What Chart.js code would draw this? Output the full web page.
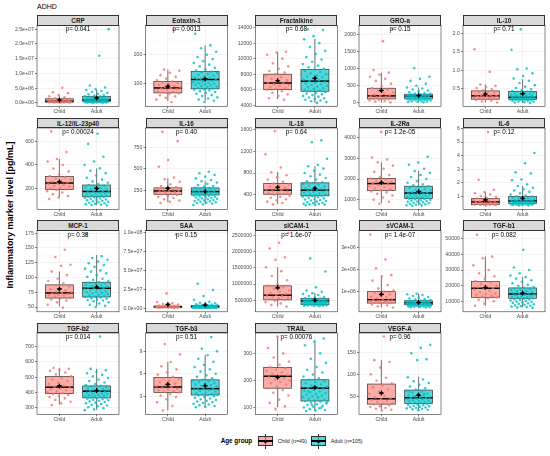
<!DOCTYPE html>
<html><head><meta charset="utf-8">
<script src="https://cdn.jsdelivr.net/npm/chart.js@4.4.1/dist/chart.umd.min.js"></script>
<style>
html,body{margin:0;padding:0;background:#fff;}
body{width:550px;height:456px;position:relative;overflow:hidden;font-family:"Liberation Sans",Arial,Helvetica,sans-serif;}
.strip{position:absolute;background:#D9D9D9;border:0.6px solid #333;box-sizing:border-box;font-weight:bold;font-size:6.3px;text-align:center;color:#1A1A1A;z-index:2;white-space:nowrap;}
.txt{position:absolute;white-space:nowrap;color:#000;}
.k{position:absolute;box-sizing:border-box;}
</style></head><body>
<div class="txt" style="left:37px;top:2.5px;font-size:7px;">ADHD</div>
<div class="txt" style="left:10px;top:215px;font-size:9px;font-weight:bold;transform:translate(-50%,-50%) rotate(-90deg);">Inflammatory marker level [pg/mL]</div>
<div id="legend"></div>
<script>
const markers = ['CRP','Eotaxin-1','Fractalkine','GRO-a','IL-10','IL-12/IL-23p40','IL-16','IL-18','IL-2Ra','IL-6','MCP-1','SAA','sICAM-1','sVCAM-1','TGF-b1','TGF-b2','TGF-b3','TRAIL','VEGF-A'];
const pLabels = ['p= 0.041','p= 0.0013','p= 0.68','p= 0.15','p= 0.71','p= 0.00024','p= 0.40','p= 0.64','p= 1.2e-05','p= 0.12','p= 0.38','p= 0.15','p= 1.6e-07','p= 1.4e-07','p= 0.082','p= 0.014','p= 0.51','p= 0.00076','p= 0.96'];
const groups = ['Child','Adult'];
const legendTitle = 'Age group';
const legendLabels = ['Child (n=49)','Adult (n=105)'];

const yLimits = [[-1.25e6,2.63e7],[22,301],[3820,14300],[-107,2257],[0.02,2.22],[22,715],[27,980],[135,1625],[530,4480],[0.07,6.03],[42,179.5],[-4.9e6,1.03e8],[140000,2660000],[85000,3780000],[3300,55300],[258,788],[0.6,11.45],[76,375],[8.5,194]];
const yTicks = [[0,5e6,1e7,1.5e7,2e7,2.5e7],[100,200],[4000,6000,8000,10000,12000,14000],[0,500,1000,1500,2000],[0.5,1,1.5,2],[200,400,600],[250,500,750],[400,800,1200,1600],[1000,2000,3000,4000],[1,2,3,4,5,6],[50,75,100,125,150,175],[0,2.5e7,5e7,7.5e7,1e8],[500000,1000000,1500000,2000000,2500000],[1e6,2e6,3e6],[10000,20000,30000,40000,50000],[300,400,500,600,700],[3,6,9],[100,200,300],[50,100,150]];
const yTickLabels = [['0.0e+00','5.0e+06','1.0e+07','1.5e+07','2.0e+07','2.5e+07'],['100','200'],['4000','6000','8000','10000','12000','14000'],['0','500','1000','1500','2000'],['0.5','1.0','1.5','2.0'],['200','400','600'],['250','500','750'],['400','800','1200','1600'],['1000','2000','3000','4000'],['1','2','3','4','5','6'],['50','75','100','125','150','175'],['0.0e+00','2.5e+07','5.0e+07','7.5e+07','1.0e+08'],['500000','1000000','1500000','2000000','2500000'],['1e+06','2e+06','3e+06'],['10000','20000','30000','40000','50000'],['300','400','500','600','700'],['3','6','9'],['100','200','300'],['50','100','150']];

// [lower whisker, Q1, median, Q3, upper whisker, mean]
const childStats = [[0.05e6,0.25e6,0.6e6,1.4e6,2.7e6,1.0e6],[41,69,86,108,149,92],[4800,6000,6860,8000,10900,7150],[10,117,204,427,880,360],[0.13,0.22,0.31,0.445,0.62,0.36],[123,191,246,303,451,257],[109,203,242,278,390,274],[229,412,486,608,815,540],[840,1440,1780,2030,2810,1830],[0.35,0.41,0.61,0.85,1.34,0.76],[51,65.3,73.9,87.5,110,80.7],[0.2e6,0.9e6,1.8e6,2.66e6,5.4e6,4.9e6],[303000,510000,655000,945000,1520000,883000],[282000,481000,634000,1000000,1700000,878000],[7220,12570,18350,22620,38660,18780],[322,393,435,504,561,443],[1.13,3.53,4.24,5.5,7.58,4.6],[102,172,216,248,362,212],[18.7,31.7,43.9,77.5,132.5,56.9]];
const adultStats = [[0.05e6,0.45e6,1.0e6,2.16e6,4.4e6,1.7e6],[42,83,115,142,232,117],[4300,5800,7100,8600,12550,7480],[20,117,194,252,450,214],[0.12,0.21,0.27,0.43,0.76,0.37],[57,129,174,229,371,200],[85,195,234,278,361,236],[229,382,486,620,925,522],[720,1050,1320,1650,2390,1390],[0.35,0.49,0.68,1.0,1.78,0.88],[51,67,81.8,92,138,84],[0.2e6,0.9e6,2.2e6,3.1e6,6.4e6,4.0e6],[320000,365000,480000,552000,718000,500000],[282000,405000,496000,588000,908000,505000],[6150,11930,14710,18570,25500,15350],[287,365,409,443,554,413],[1.58,3.18,4.02,5.2,8.5,4.42],[88,125,172,203,344,175],[18.7,33.2,46.2,63.7,93.9,52.3]];

const childPoints = [
[5.1e6,3.6e6,3.3e6,2.7e6,2.2e6,1.9e6,1.6e6,1.4e6,1.3e6,1.1e6,1.0e6,0.9e6,0.85e6,0.8e6,0.7e6,0.65e6,0.6e6,0.55e6,0.5e6,0.45e6,0.4e6,0.35e6,0.3e6,0.28e6,0.25e6,0.2e6,0.15e6,0.12e6,0.08e6,0.05e6],
[286,149,145,138,130,124,118,113,108,105,102,99,96,93,90,88,86,84,82,79,76,73,70,68,65,61,57,52,46,38],
[10900,10800,10500,10000,9400,9000,8700,8400,8200,8000,7800,7600,7400,7200,7000,6900,6800,6700,6600,6500,6350,6200,6100,6000,5800,5600,5400,5200,4900,4700],
[2146,1796,960,880,820,760,700,640,560,480,430,390,340,300,270,240,220,205,190,175,160,145,130,120,110,95,80,60,40,15],
[1.57,0.96,0.62,0.58,0.55,0.52,0.49,0.46,0.44,0.42,0.40,0.38,0.36,0.34,0.33,0.32,0.31,0.30,0.29,0.28,0.27,0.26,0.25,0.24,0.23,0.22,0.20,0.18,0.16,0.13],
[686,510,451,430,400,370,345,320,305,295,285,275,265,258,250,245,238,230,222,215,208,200,193,186,176,165,150,135,123,110],
[935,826,605,526,400,380,350,320,300,285,275,265,258,250,245,240,235,230,225,218,210,203,196,185,172,160,145,130,115,100],
[1565,1145,900,815,760,720,680,640,610,590,570,550,530,510,495,485,475,460,445,430,415,400,385,365,345,320,300,275,250,225],
[4290,3050,2950,2810,2650,2500,2350,2200,2100,2030,1980,1920,1870,1820,1780,1740,1700,1650,1600,1550,1500,1450,1400,1350,1280,1200,1100,1000,900,800],
[5.73,2.24,1.5,1.34,1.25,1.15,1.05,0.98,0.92,0.86,0.82,0.78,0.74,0.70,0.66,0.63,0.61,0.59,0.56,0.53,0.5,0.48,0.46,0.44,0.42,0.41,0.4,0.38,0.37,0.35],
[147,134.7,121.6,120,110,104,98,94,90,87,85,82,80,78,76,75,74,73,72,71,70,69,68,66,65,63,61,58,54,49],
[9.78e7,1.95e7,8e6,6.5e6,5.4e6,4.6e6,4.0e6,3.5e6,3.1e6,2.8e6,2.6e6,2.4e6,2.2e6,2.0e6,1.9e6,1.8e6,1.7e6,1.6e6,1.5e6,1.4e6,1.3e6,1.2e6,1.1e6,1.0e6,0.9e6,0.8e6,0.7e6,0.5e6,0.35e6,0.2e6],
[2580000,2280000,2100000,1830000,1750000,1520000,1400000,1250000,1120000,1000000,945000,900000,850000,800000,760000,720000,690000,660000,640000,620000,600000,580000,560000,530000,510000,480000,440000,400000,350000,300000],
[3600000,2460000,2060000,1750000,1700000,1500000,1300000,1150000,1050000,1000000,950000,880000,820000,770000,730000,700000,670000,640000,620000,600000,580000,560000,540000,520000,490000,460000,420000,380000,330000,280000],
[52570,38600,37500,33000,30000,28000,26000,24500,23000,22000,21000,20000,19500,19000,18500,18000,17500,17000,16000,15000,14500,14000,13500,13000,12500,12000,11000,10000,8500,7200],
[561,555,548,540,530,518,505,495,485,475,465,455,445,438,432,426,420,414,408,402,396,390,384,378,370,362,352,340,330,318],
[9.98,8.6,7.58,7.0,6.6,6.2,5.9,5.6,5.45,5.3,5.1,4.9,4.7,4.5,4.35,4.25,4.15,4.0,3.9,3.8,3.7,3.6,3.5,3.3,3.1,2.9,2.6,2.2,1.7,1.1],
[362,320,300,285,270,258,250,245,240,235,230,225,220,216,212,208,204,200,195,190,185,178,172,165,155,145,130,118,105,95],
[186,132,128,115,100,92,85,79,75,70,65,60,55,50,47,45,43,41,39,37,35,33,31,29,27,25,23,21,19,17]
];

const adultPoints = [
[2.5e7,1.6e7,5.9e6,5.2e6,4.6e6,4.4e6,4.0e6,3.7e6,3.4e6,3.1e6,2.9e6,2.7e6,2.5e6,2.3e6,2.2e6,2.1e6,2.0e6,1.9e6,1.8e6,1.7e6,1.6e6,1.5e6,1.4e6,1.35e6,1.3e6,1.2e6,1.15e6,1.1e6,1.05e6,1.0e6,0.95e6,0.9e6,0.85e6,0.8e6,0.75e6,0.7e6,0.65e6,0.6e6,0.55e6,0.5e6,0.47e6,0.45e6,0.42e6,0.4e6,0.35e6,0.3e6,0.28e6,0.25e6,0.2e6,0.18e6,0.15e6,0.12e6,0.1e6,0.08e6,0.05e6],
[272,232,222,210,200,192,185,178,172,166,160,155,150,146,142,140,137,134,131,128,125,122,120,118,116,114,112,110,108,106,104,102,100,98,96,94,92,90,88,86,84,82,80,78,75,72,69,66,62,58,54,50,46,42,38],
[13800,13700,12900,12500,12000,11500,11000,10600,10200,9900,9600,9300,9100,8900,8700,8600,8400,8300,8100,8000,7850,7700,7600,7450,7300,7200,7100,7000,6900,6800,6700,6600,6500,6400,6300,6200,6100,6000,5900,5800,5700,5600,5500,5400,5300,5200,5100,5000,4900,4800,4700,4600,4500,4400,4300],
[1010,760,700,640,560,500,450,420,390,360,330,310,290,275,262,252,245,238,230,224,218,212,206,200,195,190,185,180,175,170,165,160,155,150,145,140,135,130,125,120,115,110,105,100,95,90,85,80,70,60,50,40,35,25,20],
[2.11,1.56,1.05,1.03,0.92,0.85,0.78,0.72,0.66,0.6,0.56,0.52,0.49,0.46,0.44,0.43,0.42,0.40,0.38,0.37,0.36,0.35,0.34,0.33,0.32,0.31,0.30,0.29,0.28,0.28,0.27,0.27,0.26,0.26,0.25,0.25,0.24,0.24,0.23,0.23,0.22,0.22,0.21,0.21,0.20,0.20,0.19,0.19,0.18,0.17,0.16,0.15,0.14,0.13,0.12],
[666,580,470,430,400,371,350,330,310,290,275,260,248,238,229,222,215,208,202,196,190,185,180,176,172,168,164,160,156,152,148,144,140,136,132,129,126,122,118,114,110,106,102,98,94,90,86,82,78,74,70,66,62,58,55],
[467,450,430,410,390,370,355,340,325,310,300,290,280,275,270,265,260,255,250,246,242,238,234,230,226,222,218,214,210,206,202,198,195,190,185,180,175,170,165,160,155,150,145,140,135,130,125,120,115,110,105,100,92,85,78],
[1400,1365,1060,950,925,880,840,800,770,740,710,680,650,630,615,600,585,570,555,540,525,510,500,490,480,470,460,450,440,430,420,410,400,390,382,375,365,355,345,335,325,315,305,295,285,275,265,255,245,235,230,225,220,215,210],
[3080,2800,2700,2500,2390,2300,2200,2100,2000,1900,1820,1750,1700,1650,1600,1560,1520,1480,1440,1400,1370,1340,1320,1300,1280,1260,1240,1220,1200,1180,1160,1140,1120,1100,1080,1060,1050,1030,1010,990,970,950,930,910,890,870,850,830,810,790,770,750,730,720,700],
[4.2,3.45,2.78,2.7,2.25,2.2,1.9,1.78,1.65,1.55,1.45,1.35,1.25,1.15,1.08,1.02,1.0,0.96,0.92,0.88,0.85,0.82,0.79,0.76,0.74,0.72,0.70,0.68,0.67,0.66,0.64,0.62,0.60,0.58,0.57,0.56,0.55,0.54,0.52,0.51,0.50,0.49,0.48,0.47,0.46,0.45,0.44,0.43,0.42,0.41,0.40,0.39,0.38,0.36,0.35],
[173,136,133,130,127,124,121,118,115,112,110,107,104,101,98,96,94,92,91,90,89,88,87,86,85,84,83,82,81,80,79,78,77,76,75,74,73,72,71,70,69,68,67,66,65,64,63,62,61,60,58,56,54,52,50],
[3.24e7,2.4e7,1.6e7,1.1e7,8.5e6,7.2e6,6.4e6,5.8e6,5.2e6,4.7e6,4.3e6,4.0e6,3.7e6,3.4e6,3.2e6,3.0e6,2.9e6,2.8e6,2.7e6,2.6e6,2.5e6,2.4e6,2.3e6,2.2e6,2.1e6,2.0e6,1.9e6,1.8e6,1.7e6,1.6e6,1.5e6,1.45e6,1.4e6,1.3e6,1.2e6,1.15e6,1.1e6,1.0e6,0.95e6,0.9e6,0.85e6,0.8e6,0.75e6,0.7e6,0.65e6,0.6e6,0.55e6,0.5e6,0.45e6,0.4e6,0.35e6,0.3e6,0.25e6,0.22e6,0.2e6],
[1795000,1390000,900000,800000,760000,718000,690000,660000,630000,600000,580000,565000,552000,540000,530000,520000,510000,500000,495000,490000,485000,480000,475000,470000,465000,460000,455000,450000,445000,440000,435000,430000,425000,420000,415000,410000,405000,400000,395000,390000,385000,380000,375000,370000,365000,360000,355000,350000,345000,340000,335000,330000,325000,320000,310000],
[908000,880000,850000,800000,760000,720000,690000,660000,640000,620000,600000,588000,575000,565000,555000,545000,535000,528000,520000,512000,505000,498000,492000,486000,480000,474000,468000,462000,456000,450000,444000,438000,432000,426000,420000,414000,408000,402000,396000,390000,384000,378000,372000,366000,360000,354000,348000,340000,332000,324000,316000,308000,300000,290000,282000],
[42990,31650,30000,28000,26500,25500,24500,23500,22500,21500,20500,19800,19200,18600,18200,17800,17400,17000,16600,16200,15900,15600,15300,15000,14700,14400,14100,13800,13500,13200,12900,12600,12300,12000,11700,11400,11100,10800,10500,10200,9900,9600,9300,9000,8700,8400,8100,7800,7500,7200,6900,6600,6300,6100,5800],
[765,554,545,535,525,515,505,495,485,475,465,455,448,443,438,434,430,426,422,418,414,410,407,404,401,398,395,392,389,386,383,380,377,374,371,368,365,362,359,356,353,350,346,342,338,334,330,325,320,315,310,304,298,290,285],
[10.9,9.35,9.0,8.5,8.0,7.6,7.2,6.9,6.6,6.3,6.0,5.8,5.6,5.4,5.2,5.1,5.0,4.9,4.8,4.7,4.6,4.5,4.4,4.3,4.2,4.1,4.0,3.95,3.9,3.8,3.7,3.6,3.5,3.4,3.3,3.25,3.2,3.15,3.1,3.0,2.9,2.8,2.7,2.6,2.5,2.4,2.3,2.2,2.1,2.0,1.9,1.8,1.7,1.6,1.55],
[355,344,330,300,280,265,250,240,230,222,215,208,203,198,194,190,186,182,178,175,172,169,166,163,160,157,154,151,148,145,142,139,136,133,130,127,125,122,119,116,113,110,107,104,101,98,95,92,90,88,100,110,120,140,160],
[167,160,148,134,132,93,88,84,80,76,72,68,65,62,60,58,56,54,52,50,49,48,47,46,45,44,43,42,41,40,39,38,37,36,35,34,33,32,31,30,29,28,27,26,25,24,23,22,21,20,19,18,60,55,50]
];

// ---------- presentation ----------
const FONT = '"Liberation Sans", Arial, Helvetica, sans-serif';
const COL_LEFT = [37, 145.5, 255.3, 359, 463];
const STRIP_TOP = [15, 117.7, 220.2, 322.7];
const PW = 82, PH = 81.3, SH = 10.3, AXW = 34, AXH = 11, PADT = 6, PADR = 3;
const FILL = ['rgba(248,118,109,0.6)', 'rgba(0,191,196,0.65)'];
const PT = ['rgba(248,118,109,0.8)', 'rgba(0,191,196,0.8)'];
const BOXW = 0.375;

function jit(k, seed) { return ((((k + 1) * 0.6180339887 + seed) % 1) - 0.5) * 0.66; }

const boxPlugin = {
  id: 'boxes',
  beforeDatasetsDraw(chart) {
    const o = chart.options.plugins.boxes;
    const { ctx } = chart; const x = chart.scales.x, y = chart.scales.y;
    ctx.save();
    o.stats.forEach((s, g) => {
      const xc = x.getPixelForValue(g + 1);
      const xl = x.getPixelForValue(g + 1 - BOXW), xr = x.getPixelForValue(g + 1 + BOXW);
      const yLo = y.getPixelForValue(s[0]), yQ1 = y.getPixelForValue(s[1]), yMed = y.getPixelForValue(s[2]);
      const yQ3 = y.getPixelForValue(s[3]), yHi = y.getPixelForValue(s[4]);
      ctx.strokeStyle = '#333'; ctx.lineWidth = 0.7;
      ctx.beginPath(); ctx.moveTo(xc, yHi); ctx.lineTo(xc, yQ3); ctx.moveTo(xc, yQ1); ctx.lineTo(xc, yLo); ctx.stroke();
      ctx.fillStyle = FILL[g]; ctx.fillRect(xl, yQ3, xr - xl, yQ1 - yQ3);
      ctx.strokeRect(xl, yQ3, xr - xl, yQ1 - yQ3);
      ctx.strokeStyle = '#000'; ctx.lineWidth = 1.5;
      ctx.beginPath(); ctx.moveTo(xl, yMed); ctx.lineTo(xr, yMed); ctx.stroke();
    });
    ctx.restore();
  },
  afterDatasetsDraw(chart) {
    const o = chart.options.plugins.boxes;
    const { ctx, chartArea: a } = chart; const x = chart.scales.x, y = chart.scales.y;
    ctx.save();
    o.stats.forEach((s, g) => {
      const xc = x.getPixelForValue(g + 1), ym = y.getPixelForValue(s[5]);
      ctx.fillStyle = '#000';
      ctx.beginPath(); ctx.arc(xc, ym, 1.5, 0, Math.PI * 2); ctx.fill();
      ctx.strokeStyle = '#000'; ctx.lineWidth = 1.1;
      ctx.beginPath(); ctx.moveTo(xc - 2.5, ym); ctx.lineTo(xc + 2.5, ym); ctx.moveTo(xc, ym - 2.5); ctx.lineTo(xc, ym + 2.5); ctx.stroke();
    });
    ctx.strokeStyle = '#333'; ctx.lineWidth = 0.6;
    ctx.strokeRect(a.left, a.top, a.right - a.left, a.bottom - a.top);
    ctx.fillStyle = '#000'; ctx.font = '6.3px ' + FONT; ctx.textAlign = 'center'; ctx.textBaseline = 'middle';
    ctx.fillText(o.p, x.getPixelForValue(1.5), a.top + 4.4);
    ctx.restore();
  }
};

markers.forEach((name, i) => {
  const col = i % 5, row = Math.floor(i / 5);
  const plotLeft = COL_LEFT[col], plotTop = STRIP_TOP[row] + SH;
  const cl = Math.floor(plotLeft - AXW), ct = Math.floor(plotTop - PADT);
  const axW = plotLeft - cl, padT = plotTop - ct;
  const cw = Math.ceil(axW + PW + PADR), ch = Math.ceil(padT + PH + AXH);
  const padR = cw - axW - PW, axH = ch - padT - PH;

  const st = document.createElement('div');
  st.className = 'strip';
  st.style.left = plotLeft + 'px'; st.style.top = STRIP_TOP[row] + 'px';
  st.style.width = PW + 'px'; st.style.height = (SH + 0.3) + 'px'; st.style.lineHeight = (SH - 0.6) + 'px';
  st.textContent = name;
  document.body.appendChild(st);

  const cv = document.createElement('canvas');
  cv.width = cw; cv.height = ch;
  cv.style.cssText = 'position:absolute;left:' + cl + 'px;top:' + ct + 'px;width:' + cw + 'px;height:' + ch + 'px;';
  document.body.appendChild(cv);

  const majors = yTicks[i], labels = yTickLabels[i];
  const [ymin, ymax] = yLimits[i];
  const step = majors[1] - majors[0];

  new Chart(cv, {
    type: 'scatter',
    data: {
      datasets: [childPoints[i], adultPoints[i]].map((arr, g) => ({
        label: groups[g],
        data: arr.map((v, k) => ({ x: g + 1 + jit(k, g * 0.37 + i * 0.11), y: v })),
        backgroundColor: PT[g], borderWidth: 0, pointRadius: 1.3, pointHoverRadius: 1.3
      }))
    },
    plugins: [boxPlugin],
    options: {
      responsive: false, animation: false, events: [],
      layout: { padding: { top: padT, right: padR, left: 0, bottom: 0 } },
      plugins: { legend: { display: false }, tooltip: { enabled: false },
        boxes: { stats: [childStats[i], adultStats[i]], p: pLabels[i] } },
      scales: {
        x: {
          type: 'linear', min: 0.4, max: 2.6,
          afterBuildTicks: s => { s.ticks = [{ value: 1 }, { value: 2 }]; },
          afterFit: s => { s.height = axH; },
          ticks: { callback: v => groups[Math.round(v) - 1], font: { family: FONT, size: 5.2 }, color: '#4D4D4D', padding: 0, maxRotation: 0, autoSkip: false },
          grid: { color: '#EBEBEB', lineWidth: 0.6, tickLength: 2, tickColor: '#333', tickWidth: 0.6 },
          border: { display: false }
        },
        y: {
          type: 'linear', min: ymin, max: ymax,
          afterBuildTicks: s => {
            const t = majors.map((v, k) => ({ value: v, isMajor: true, lbl: labels[k] }));
            const minors = [];
            for (let k = 0; k < majors.length - 1; k++) minors.push((majors[k] + majors[k + 1]) / 2);
            const lo = majors[0] - step / 2, hi = majors[majors.length - 1] + step / 2;
            if (lo >= ymin) minors.push(lo);
            if (hi <= ymax) minors.push(hi);
            minors.forEach(v => t.push({ value: v, isMajor: false, lbl: '' }));
            t.sort((a, b) => a.value - b.value);
            s.ticks = t;
          },
          afterFit: s => { s.width = axW; },
          ticks: { callback: (v, k, ts) => ts[k].lbl, font: { family: FONT, size: 5.2 }, color: '#4D4D4D', padding: 1.2, autoSkip: false },
          grid: {
            color: c => (c.tick && c.tick.isMajor) ? '#EBEBEB' : '#F4F4F4',
            lineWidth: c => (c.tick && c.tick.isMajor) ? 0.6 : 0.35,
            tickColor: c => (c.tick && c.tick.isMajor) ? '#333' : 'rgba(0,0,0,0)',
            tickLength: 2, tickWidth: 0.6
          },
          border: { display: false }
        }
      }
    }
  });
});

// legend
(function () {
  const L = document.getElementById('legend');
  const add = (html) => { L.insertAdjacentHTML('beforeend', html); };
  add('<div class="txt" style="left:220.7px;top:437.3px;font-size:6.3px;font-weight:bold;">' + legendTitle + '</div>');
  const keyLeft = [257.7, 311], textLeft = [277.7, 330.7];
  [0, 1].forEach(g => {
    const kl = keyLeft[g];
    add('<div class="k" style="left:' + (kl + 7.2) + 'px;top:433.5px;width:0.7px;height:15px;background:#333;"></div>');
    add('<div class="k" style="left:' + kl + 'px;top:436.3px;width:15px;height:9.6px;background:' + FILL[g] + ';border:0.7px solid #333;"></div>');
    add('<div class="k" style="left:' + kl + 'px;top:440.4px;width:15px;height:1.3px;background:#000;"></div>');
    add('<div class="k" style="left:' + (kl + 6) + 'px;top:439.8px;width:3px;height:3px;border-radius:50%;background:#000;"></div>');
    add('<div class="txt" style="left:' + textLeft[g] + 'px;top:437.8px;font-size:5.3px;color:#1A1A1A;">' + legendLabels[g] + '</div>');
  });
})();
</script>
</body></html>
